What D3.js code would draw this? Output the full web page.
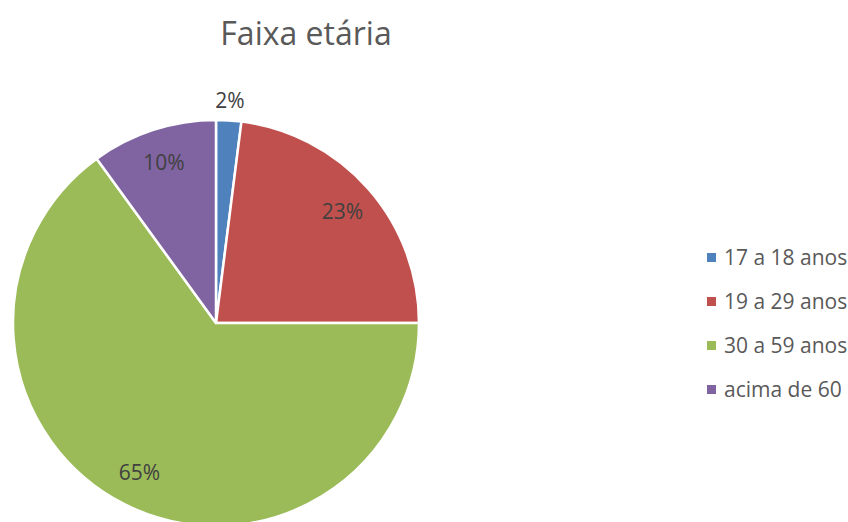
<!DOCTYPE html>
<html>
<head>
<meta charset="utf-8">
<script src="https://cdn.jsdelivr.net/npm/d3@7"></script>
<style>
  body { margin: 0; background: #fff; }
  svg { display: block; font-family: "Open Sans", "Noto Sans", sans-serif; }
</style>
</head>
<body>
<svg id="chart"></svg>
<script>
var categories = ["17 a 18 anos", "19 a 29 anos", "30 a 59 anos", "acima de 60"];
var values = [2, 23, 65, 10];
var colors = ["#4F81BD", "#C0504D", "#9BBB59", "#8064A2"];
var title = "Faixa etária";

const svgWidth = 848, svgHeight = 522;

var svg = d3.select("#chart")
    .attr("width", svgWidth)
    .attr("height", svgHeight);

var data = categories.map((c, i) => ({ cat: c, value: values[i] }));

var color = d3.scaleOrdinal().domain(categories).range(colors);

var cx = 216, cy = 323, radius = 203;

var pie = d3.pie().value(d => d.value).sort(null);
var arcs = pie(data);

var arc = d3.arc().innerRadius(0).outerRadius(radius);
var labelArc = d3.arc().innerRadius(radius * 0.83).outerRadius(radius * 0.83);
var outerLabelArc = d3.arc().innerRadius(radius * 1.1).outerRadius(radius * 1.1);

var g = svg.append("g")
    .attr("transform", "translate(" + cx + "," + cy + ")");

g.selectAll("path")
    .data(arcs)
    .enter()
    .append("path")
    .attr("d", arc)
    .attr("fill", d => color(d.data.cat))
    .attr("stroke", "#fff")
    .attr("stroke-width", 2.5)
    .attr("stroke-linejoin", "round");

var total = d3.sum(values);

g.selectAll("text.lbl")
    .data(arcs)
    .enter()
    .append("text")
    .attr("class", "lbl")
    .attr("transform", d => {
        var small = d.data.value / total < 0.05;
        var c = small ? outerLabelArc.centroid(d) : labelArc.centroid(d);
        return "translate(" + c + ")";
    })
    .attr("text-anchor", "middle")
    .attr("dy", "0.35em")
    .attr("font-size", 21)
    .attr("fill", "#404040")
    .text(d => Math.round(d.data.value / total * 100) + "%");

// title
svg.append("text")
    .attr("x", 306)
    .attr("y", 45)
    .attr("text-anchor", "middle")
    .attr("font-size", 32)
    .attr("fill", "#595959")
    .text(title);

// legend
var legend = svg.append("g")
    .attr("transform", "translate(707,258)");

var legendY = d3.scalePoint().domain(categories).range([0, 132]);

var item = legend.selectAll("g")
    .data(categories)
    .enter()
    .append("g")
    .attr("transform", d => "translate(0," + legendY(d) + ")");

item.append("rect")
    .attr("x", 0)
    .attr("y", -5)
    .attr("width", 9)
    .attr("height", 9)
    .attr("fill", d => color(d));

item.append("text")
    .attr("x", 17)
    .attr("dy", "0.35em")
    .attr("font-size", 21)
    .attr("fill", "#595959")
    .text(d => d);
</script>
</body>
</html>
